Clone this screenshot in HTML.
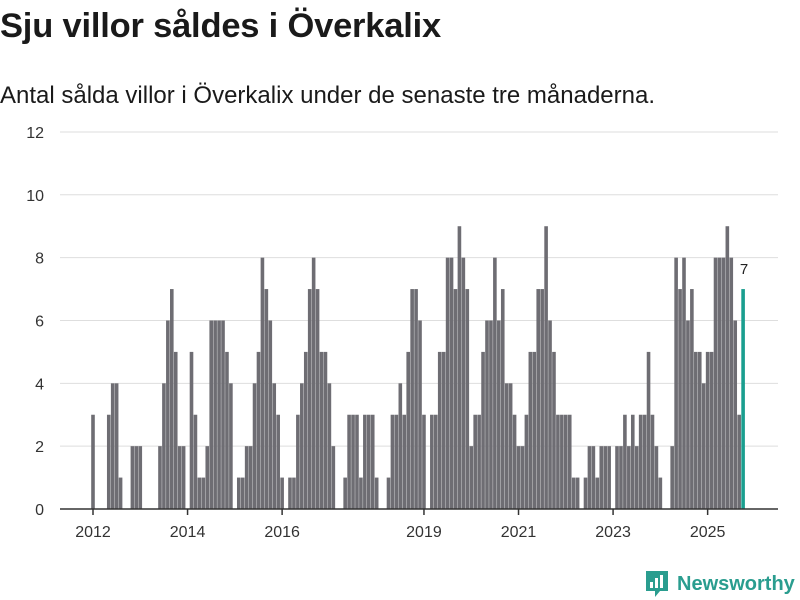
<!DOCTYPE html>
<html><head><meta charset="utf-8"><style>
body{margin:0;width:800px;height:600px;background:#fff;font-family:"Liberation Sans",sans-serif;overflow:hidden;position:relative}
#title{position:absolute;left:0;top:7px;font-size:34.5px;font-weight:bold;color:#1a1a1a;margin:0;letter-spacing:-0.2px}
#sub{position:absolute;left:0;top:82px;font-size:24px;color:#1a1a1a;margin:0}
svg{position:absolute;left:0;top:0}
</style></head><body>
<h1 id="title">Sju villor såldes i Överkalix</h1>
<p id="sub">Antal sålda villor i Överkalix under de senaste tre månaderna.</p>
<svg id="chart" width="800" height="600"></svg>
<script>
const values=[3,0,0,0,3,4,4,1,0,0,2,2,
2,0,0,0,0,2,4,6,7,5,2,2,
0,5,3,1,1,2,6,6,6,6,5,4,
0,1,1,2,2,4,5,8,7,6,4,3,
1,0,1,1,3,4,5,7,8,7,5,5,
4,2,0,0,1,3,3,3,1,3,3,3,
1,0,0,1,3,3,4,3,5,7,7,6,
3,0,3,3,5,5,8,8,7,9,8,7,
2,3,3,5,6,6,8,6,7,4,4,3,
2,2,3,5,5,7,7,9,6,5,3,3,
3,3,1,1,0,1,2,2,1,2,2,2,
0,2,2,3,2,3,2,3,3,5,3,2,
1,0,0,2,8,7,8,6,7,5,5,4,
5,5,8,8,8,9,8,6,3,7];
const yTicks=[0,2,4,6,8,10,12];
const yearLabels=["2012","2014","2016","2019","2021","2023","2025"];
const yearMonthIdx=[0,24,48,84,108,132,156];
const NS="http://www.w3.org/2000/svg";
const svg=document.getElementById('chart');
const x=m=>93+m*3.94;
const y=v=>509-v*31.42;
function mk(t,a){const e=document.createElementNS(NS,t);for(const k in a)e.setAttribute(k,a[k]);svg.appendChild(e);return e;}
yTicks.forEach(v=>{
 const g=mk('line',{x1:60,x2:778,y1:y(v),y2:y(v),stroke:'#dedede','stroke-width':1});
 
 
 const t=mk('text',{x:44,y:y(v)+6,'text-anchor':'end','font-size':16,fill:'#333'});
 t.textContent=v;
 
 
});
values.forEach((v,i)=>{
 if(v<=0)return;
 const last=i===values.length-1;
 const r=mk('rect',{x:x(i)-1.8,y:y(v),width:3.6,height:509-y(v),fill:last?'#1a9e8f':'#6e6d73'});
 
 
});
const li=values.length-1;
const lbl=mk('text',{x:x(li)+1,y:y(values[li])-15,'text-anchor':'middle','font-size':15,fill:'#222'});
lbl.textContent=values[li];


const ax=mk('line',{x1:60,x2:778,y1:509,y2:509,stroke:'#333','stroke-width':1.5});


yearLabels.forEach((s,k)=>{
 const px=x(yearMonthIdx[k]);
 const tk=mk('line',{x1:px,x2:px,y1:509,y2:515,stroke:'#333','stroke-width':1.5});
 
 
 const t=mk('text',{x:px,y:537,'text-anchor':'middle','font-size':16,fill:'#333'});
 t.textContent=s;
 
 
});
</script>
<div style="position:absolute;left:645px;top:570px;display:flex;align-items:center">
<svg width="24" height="28" style="position:static"><path d="M1 1h22v20h-8l-5 6v-6H1z" fill="#2a9d8f"/><rect x="5" y="12" width="3" height="6" fill="#fff"/><rect x="10" y="8" width="3" height="10" fill="#fff"/><rect x="15" y="5" width="3" height="13" fill="#fff"/></svg>
<span style="font-size:20px;font-weight:bold;color:#2a9d8f;margin-left:8px">Newsworthy</span>
</div>
</body></html>
